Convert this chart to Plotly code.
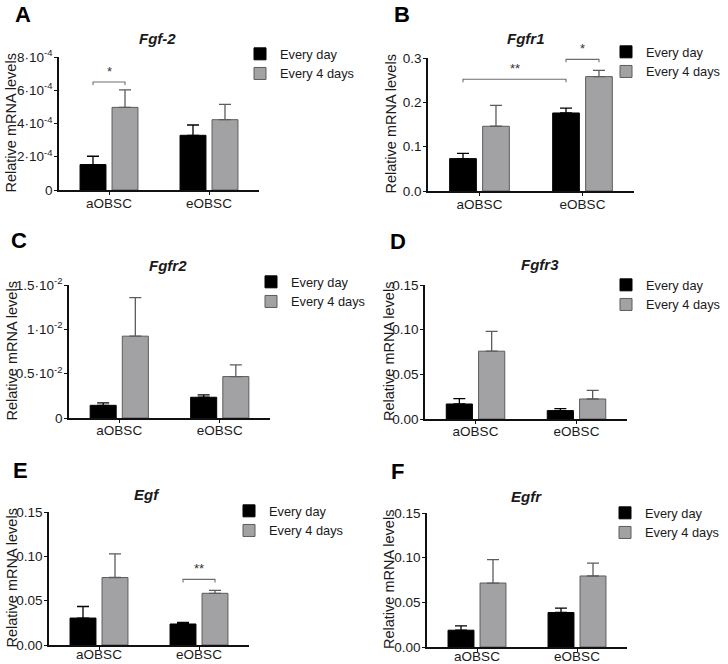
import plotly.graph_objects as go

W, H = 728, 664
FONT = "Liberation Sans, Arial, sans-serif"

# ---------------- data ----------------
categories = ["aOBSC", "eOBSC"]
series_names = ["Every day", "Every 4 days"]
genes = ["Fgf-2", "Fgfr1", "Fgfr2", "Fgfr3", "Egf", "Egfr"]
panel_letters = ["A", "B", "C", "D", "E", "F"]

fgf2_every_day = [1.53e-4, 3.29e-4]
fgf2_every_day_sem = [0.50e-4, 0.62e-4]
fgf2_every_4_days = [4.97e-4, 4.23e-4]
fgf2_every_4_days_sem = [1.05e-4, 0.92e-4]

fgfr1_every_day = [0.073, 0.176]
fgfr1_every_day_sem = [0.012, 0.011]
fgfr1_every_4_days = [0.146, 0.258]
fgfr1_every_4_days_sem = [0.047, 0.014]

fgfr2_every_day = [0.143e-2, 0.234e-2]
fgfr2_every_day_sem = [0.027e-2, 0.026e-2]
fgfr2_every_4_days = [0.923e-2, 0.467e-2]
fgfr2_every_4_days_sem = [0.434e-2, 0.133e-2]

fgfr3_every_day = [0.0168, 0.0094]
fgfr3_every_day_sem = [0.0060, 0.0022]
fgfr3_every_4_days = [0.0759, 0.0224]
fgfr3_every_4_days_sem = [0.0221, 0.0096]

egf_every_day = [0.0304, 0.0237]
egf_every_day_sem = [0.0130, 0.0017]
egf_every_4_days = [0.0761, 0.0583]
egf_every_4_days_sem = [0.0266, 0.0032]

egfr_every_day = [0.0188, 0.0386]
egfr_every_day_sem = [0.0048, 0.0049]
egfr_every_4_days = [0.0716, 0.0795]
egfr_every_4_days_sem = [0.0263, 0.0143]

y_tick_values = [
    [0, 2e-4, 4e-4, 6e-4, 8e-4],
    [0, 0.1, 0.2, 0.3],
    [0, 0.005, 0.01, 0.015],
    [0, 0.05, 0.10, 0.15],
    [0, 0.05, 0.10, 0.15],
    [0, 0.05, 0.10, 0.15],
]
y_tick_labels = [
    ["0", "2·10<sup>-4</sup>", "4·10<sup>-4</sup>", "6·10<sup>-4</sup>", "8·10<sup>-4</sup>"],
    ["0.0", "0.1", "0.2", "0.3"],
    ["0", "0.5·10<sup>-2</sup>", "1·10<sup>-2</sup>", "1.5·10<sup>-2</sup>"],
    ["0.00", "0.05", "0.10", "0.15"],
    ["0.00", "0.05", "0.10", "0.15"],
    ["0.00", "0.05", "0.10", "0.15"],
]

# significance: (panel, (category, series), (category, series), bracket level, label)
significance = [
    (0, (0, 0), (0, 1), 6.5e-4, "*"),
    (1, (0, 0), (1, 0), 0.252, "**"),
    (1, (1, 0), (1, 1), 0.297, "*"),
    (4, (1, 0), (1, 1), 0.074, "**"),
]

panels = [
    (fgf2_every_day, fgf2_every_day_sem, fgf2_every_4_days, fgf2_every_4_days_sem),
    (fgfr1_every_day, fgfr1_every_day_sem, fgfr1_every_4_days, fgfr1_every_4_days_sem),
    (fgfr2_every_day, fgfr2_every_day_sem, fgfr2_every_4_days, fgfr2_every_4_days_sem),
    (fgfr3_every_day, fgfr3_every_day_sem, fgfr3_every_4_days, fgfr3_every_4_days_sem),
    (egf_every_day, egf_every_day_sem, egf_every_4_days, egf_every_4_days_sem),
    (egfr_every_day, egfr_every_day_sem, egfr_every_4_days, egfr_every_4_days_sem),
]

# ---------------- layout (pixels) ----------------
# plot area: x_left, x_right, y_top, y_bottom
plot_px = [
    (59, 259, 57, 190),
    (428, 634, 58, 191),
    (69, 270, 285, 418),
    (425, 627, 285, 419),
    (49, 249, 512, 645),
    (427, 627, 513, 647),
]
title_px = [(157, 38), (526, 39), (168, 265), (540, 264), (147, 494), (526, 496)]
letter_px = [(23, 15), (402, 14), (19, 240), (398, 241), (20, 470), (398, 471)]
ytitle_px = [11, 390, 11, 389, 11, 389]
legend_px = [(240, 39), (606, 37), (251, 267), (606, 270), (229, 496), (605, 498)]
xlabel_standoff = [-3, -3, -4, -4, -7, -7]

BARGAP = 0.36
GROUPGAP = 0.19
BLACK = "#000000"
GRAY_FILL = "#a2a2a5"
GRAY_LINE = "#5c5c5c"
TXT = "#1a1a1a"


def px_x(v):
    return v / W


def px_y(v):
    return 1 - v / H


fig = go.Figure()
layout = dict(
    width=W, height=H, margin=dict(l=0, r=0, t=0, b=0, pad=0, autoexpand=False),
    paper_bgcolor="white", plot_bgcolor="white",
    font=dict(family=FONT, color=TXT, size=13),
    barmode="group", bargap=BARGAP, bargroupgap=GROUPGAP,
)
annotations = []
shapes = []

for i, (ed, ed_sem, e4, e4_sem) in enumerate(panels):
    sfx = "" if i == 0 else str(i + 1)
    xa, ya = "x" + sfx, "y" + sfx
    leg = "legend" + sfx
    x0, x1, yt, yb = plot_px[i]
    yrange = [0, y_tick_values[i][-1]]

    fig.add_trace(go.Bar(
        x=categories, y=ed, name=series_names[0], xaxis=xa, yaxis=ya, legend=leg,
        marker=dict(color=BLACK, line=dict(color=BLACK, width=1)),
        error_y=dict(type="data", symmetric=False, array=ed_sem, arrayminus=[0, 0],
                     color=BLACK, thickness=1.3, width=6),
    ))
    fig.add_trace(go.Bar(
        x=categories, y=e4, name=series_names[1], xaxis=xa, yaxis=ya, legend=leg,
        marker=dict(color=GRAY_FILL, line=dict(color=GRAY_LINE, width=1)),
        error_y=dict(type="data", symmetric=False, array=e4_sem, arrayminus=[0, 0],
                     color=GRAY_LINE, thickness=1.3, width=6),
    ))

    layout["xaxis" + sfx] = dict(
        domain=[px_x(x0), px_x(x1)], anchor=ya, type="category", automargin=False,
        range=[-0.5, 1.5], showline=True, linecolor="#111", linewidth=1.6,
        ticks="outside", ticklen=3, tickcolor="#111", tickwidth=1.3,
        ticklabelstandoff=xlabel_standoff[i],
        tickfont=dict(size=13.5, color=TXT), showgrid=False, zeroline=False, fixedrange=True,
    )
    layout["yaxis" + sfx] = dict(
        domain=[px_y(yb), px_y(yt)], anchor=xa, range=yrange, automargin=False,
        tickvals=y_tick_values[i], ticktext=y_tick_labels[i],
        showline=True, linecolor="#111", linewidth=1.6,
        ticks="outside", ticklen=3, tickcolor="#111", tickwidth=1.3, ticklabelstandoff=-1,
        tickfont=dict(size=13.5, color=TXT), showgrid=False, zeroline=False, fixedrange=True,
    )
    lx, ly = legend_px[i]
    layout[leg] = dict(
        x=px_x(lx), y=px_y(ly), xanchor="left", yanchor="top",
        bgcolor="rgba(0,0,0,0)", font=dict(size=12.8, color=TXT, family=FONT),
        itemwidth=30, tracegroupgap=0,
    )

    tx, ty = title_px[i]
    annotations.append(dict(
        text="<b><i>%s</i></b>" % genes[i], x=px_x(tx), y=px_y(ty), xref="paper", yref="paper",
        showarrow=False, xanchor="center", yanchor="middle", font=dict(size=15, color=TXT),
    ))
    lxp, lyp = letter_px[i]
    annotations.append(dict(
        text="<b>%s</b>" % panel_letters[i], x=px_x(lxp), y=px_y(lyp), xref="paper", yref="paper",
        showarrow=False, xanchor="center", yanchor="middle", font=dict(size=22, color="#000"),
    ))
    annotations.append(dict(
        text="Relative mRNA levels", x=px_x(ytitle_px[i]), y=px_y((yt + yb) / 2),
        xref="paper", yref="paper", showarrow=False, textangle=-90,
        xanchor="center", yanchor="middle", font=dict(size=14.5, color=TXT),
    ))

slot = (1 - BARGAP) / 2
for (p, (c0, s0), (c1, s1), level, label) in significance:
    sfx = "" if p == 0 else str(p + 1)
    xa, ya = "x" + sfx, "y" + sfx
    xa0 = c0 + (s0 - 0.5) * slot
    xa1 = c1 + (s1 - 0.5) * slot
    x0, x1, yt, yb = plot_px[p]
    drop = 3.0 / (yb - yt) * y_tick_values[p][-1]
    shapes.append(dict(
        type="path", xref=xa, yref=ya,
        path="M %f,%g L %f,%g L %f,%g L %f,%g" % (xa0, level - drop, xa0, level, xa1, level, xa1, level - drop),
        line=dict(color="#6e6e6e", width=1.1),
    ))
    annotations.append(dict(
        text=label, x=(xa0 + xa1) / 2, y=level, xref=xa, yref=ya, showarrow=False,
        xanchor="center", yanchor="bottom", yshift=1, font=dict(size=13, color="#333"),
    ))

layout["annotations"] = annotations
layout["shapes"] = shapes
fig.update_layout(**layout)
fig.write_html(
    "out.html",
    config={"displayModeBar": False},
    post_script="document.body.style.margin='0';document.body.style.padding='0';document.body.style.overflow='hidden';",
)
